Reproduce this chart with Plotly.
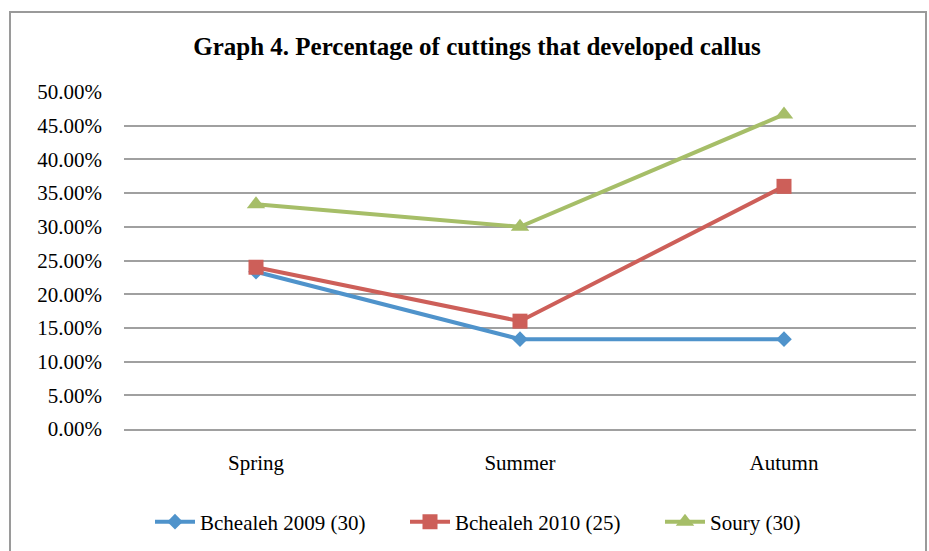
import plotly.graph_objects as go

seasons = ["Spring", "Summer", "Autumn"]
bchealeh_2009 = [0.2333, 0.1333, 0.1333]
bchealeh_2010 = [0.24, 0.16, 0.36]
soury = [0.3333, 0.30, 0.4667]
y_ticks = [0.0, 0.05, 0.10, 0.15, 0.20, 0.25, 0.30, 0.35, 0.40, 0.45, 0.50]

series = [
    ("Bchealeh 2009 (30)", bchealeh_2009, "#4F93CB", "diamond", 12),
    ("Bchealeh 2010 (25)", bchealeh_2010, "#CD5F59", "square", 15),
    ("Soury (30)", soury, "#A6BE68", "triangle-up", 16),
]

W, H = 929, 551
L, R, T, B = 124, 916, 92, 429
pw, ph = R - L, B - T

fig = go.Figure()
for name, vals, color, symbol, size in series:
    fig.add_trace(go.Scatter(
        x=seasons, y=vals, name=name, mode="lines+markers",
        line=dict(color=color, width=4),
        marker=dict(symbol=symbol, size=size, color=color, line=dict(width=0)),
    ))

font = "Liberation Serif, Times New Roman, serif"

fig.update_layout(
    width=W, height=H,
    margin=dict(l=L, r=W - R, t=T, b=H - B),
    paper_bgcolor="white", plot_bgcolor="white",
    font=dict(family=font, size=21, color="black"),
    title=dict(text="<b>Graph 4. Percentage of cuttings that developed callus</b>",
               x=477 / W, xref="container", xanchor="center",
               y=1 - 46 / H, yref="container", yanchor="middle",
               font=dict(family=font, size=25, color="black")),
    showlegend=True,
    legend=dict(orientation="h", x=150 / W, xref="container", xanchor="left",
                y=1 - 522 / H, yref="container", yanchor="middle",
                font=dict(family=font, size=21), itemwidth=40,
                entrywidth=200, entrywidthmode="pixels",
                tracegroupgap=0),
    xaxis=dict(type="category", range=[-0.5, 2.5], showgrid=False,
               showline=True, linecolor="#A0A0A0", linewidth=1.5,
               ticks="", ticklabelstandoff=14, tickfont=dict(size=21)),
    yaxis=dict(range=[0, 0.5], tickvals=y_ticks, tickformat=".2%",
               showgrid=True, gridcolor="#A0A0A0", gridwidth=1.5,
               zeroline=True, zerolinecolor="#A0A0A0", zerolinewidth=1.5,
               showline=False, ticks="", ticklabelstandoff=21,
               tickfont=dict(size=21)),
    shapes=[dict(type="rect", xref="paper", yref="paper",
                 x0=(10 - L) / pw, x1=(926 - L) / pw,
                 y0=(B - 570) / ph, y1=(B - 12) / ph,
                 line=dict(color="#9A9A9A", width=2), layer="below")],
)

fig.write_html("out.html")
